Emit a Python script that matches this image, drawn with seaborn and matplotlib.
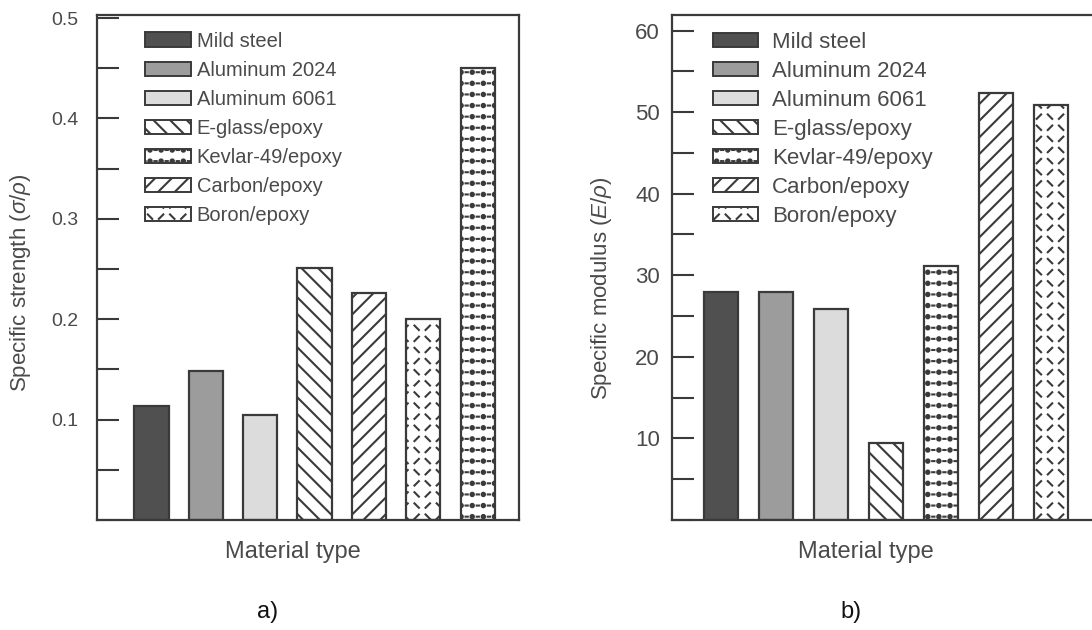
import numpy as np
import pandas as pd
import matplotlib
matplotlib.use("Agg")
import matplotlib.pyplot as plt
import matplotlib.hatch as mhatch
from matplotlib.path import Path
from matplotlib.patches import Patch
from matplotlib.ticker import MultipleLocator, FixedLocator
import seaborn as sns

# ---------------------------------------------------------------- data
legend_materials = ["Mild steel", "Aluminum 2024", "Aluminum 6061", "E-glass/epoxy",
                    "Kevlar-49/epoxy", "Carbon/epoxy", "Boron/epoxy"]

strength_order = ["Mild steel", "Aluminum 2024", "Aluminum 6061", "E-glass/epoxy",
                  "Carbon/epoxy", "Boron/epoxy", "Kevlar-49/epoxy"]
strength_values = [0.114, 0.148, 0.105, 0.251, 0.226, 0.200, 0.450]
strength_ticks = [0.1, 0.2, 0.3, 0.4, 0.5]

modulus_order = ["Mild steel", "Aluminum 2024", "Aluminum 6061", "E-glass/epoxy",
                 "Kevlar-49/epoxy", "Carbon/epoxy", "Boron/epoxy"]
modulus_values = [28.0, 28.0, 25.9, 9.4, 31.1, 52.3, 50.9]
modulus_ticks = [10, 20, 30, 40, 50, 60]

# ---------------------------------------------------------------- styles
FILLS = {"Mild steel": "#505050", "Aluminum 2024": "#9c9c9c", "Aluminum 6061": "#dcdcdc",
         "E-glass/epoxy": "white", "Kevlar-49/epoxy": "white",
         "Carbon/epoxy": "white", "Boron/epoxy": "white"}
HATCHES = {"Mild steel": "", "Aluminum 2024": "", "Aluminum 6061": "",
           "E-glass/epoxy": "\\\\", "Kevlar-49/epoxy": "O",
           "Carbon/epoxy": "//", "Boron/epoxy": "*"}
EDGE = "#3a3a3a"
TEXT = "#4a4a4a"


class DashWeave(mhatch.HatchPatternBase):
    """Short dashes alternating between / and \\ on a square grid (drawn for '*')."""

    def __init__(self, hatch, density):
        self.num_cells = int(round(hatch.count("*") * density * 1.5))
        self.num_vertices = 2 * self.num_cells ** 2

    def set_vertices_and_codes(self, vertices, codes):
        n = self.num_cells
        step = 1.0 / n
        half = 0.2 * step
        k = 0
        for i in range(n):
            for j in range(n):
                cx = (i + 0.5) * step
                cy = (j + 0.5) * step
                s = 1 if (i + j) % 2 == 0 else -1
                vertices[k] = (cx - half, cy - s * half)
                vertices[k + 1] = (cx + half, cy + s * half)
                codes[k] = Path.MOVETO
                codes[k + 1] = Path.LINETO
                k += 2


class DotRows(mhatch.HatchPatternBase):
    """Rows of filled dots joined by short dashes (drawn for 'O')."""

    def __init__(self, hatch, density):
        self.num_cells = int(round(hatch.count("O") * density * 1.5))
        circle = Path.unit_circle()
        self.circle_vertices = circle.vertices
        self.circle_codes = circle.codes
        per_cell = len(self.circle_vertices) + 2
        self.num_vertices = per_cell * self.num_cells ** 2

    def set_vertices_and_codes(self, vertices, codes):
        n = self.num_cells
        step = 1.0 / n
        radius = 0.15 * step
        nc = len(self.circle_vertices)
        k = 0
        for i in range(n):
            for j in range(n):
                cx = (i + 0.5) * step
                cy = (j + 0.5) * step
                vertices[k:k + nc] = self.circle_vertices * radius + (cx, cy)
                codes[k:k + nc] = self.circle_codes
                k += nc
                vertices[k] = (cx + 0.4 * step, cy)
                vertices[k + 1] = (cx + 0.6 * step, cy)
                codes[k] = Path.MOVETO
                codes[k + 1] = Path.LINETO
                k += 2


_swap = {mhatch.Stars: DashWeave, mhatch.LargeCircles: DotRows}
mhatch._hatch_types = [_swap.get(t, t) for t in mhatch._hatch_types]

sns.set_style("white")
plt.rcParams["font.family"] = ["Liberation Sans", "DejaVu Sans"]
plt.rcParams["mathtext.fontset"] = "custom"
plt.rcParams["mathtext.rm"] = "Liberation Sans"
plt.rcParams["mathtext.it"] = "Liberation Sans:italic"
plt.rcParams["hatch.linewidth"] = 1.5
plt.rcParams["hatch.color"] = EDGE

fig = plt.figure(figsize=(10.92, 6.3), dpi=100)
W, H = 1092.0, 630.0


def px_axes(left, top, right, bottom):
    return fig.add_axes([left / W, 1 - bottom / H, (right - left) / W, (bottom - top) / H])


def draw_panel(ax, order, values, ymax, ticks, minor_step, ylabel, xlim,
               tick_fs, tick_pad, legend_fs, legend_kw, ylabel_x, ylabel_y, xlabel_x):
    df = pd.DataFrame({"material": order, "value": values})
    sns.barplot(data=df, x="material", y="value", hue="material", order=order,
                hue_order=order, palette=FILLS, saturation=1, width=0.63,
                edgecolor=EDGE, linewidth=1.6, errorbar=None, legend=False, ax=ax)
    for p in ax.patches:
        idx = int(round(p.get_x() + p.get_width() / 2))
        p.set_hatch(HATCHES[order[idx]])

    ax.set_xlim(*xlim)
    ax.set_ylim(0, ymax)
    ax.set_xticks([])
    ax.yaxis.set_major_locator(FixedLocator(ticks))
    ax.yaxis.set_minor_locator(MultipleLocator(minor_step))
    ax.tick_params(axis="y", which="both", direction="in", length=16, width=1.5,
                   color=EDGE, left=True, right=False)
    ax.tick_params(axis="y", which="major", labelsize=tick_fs, labelcolor=TEXT, pad=tick_pad)
    for side, sp in ax.spines.items():
        sp.set_color(EDGE)
        sp.set_linewidth(1.6)

    ax.set_ylabel(ylabel, fontsize=16, color=TEXT)
    ax.yaxis.set_label_coords(ylabel_x, ylabel_y)
    ax.set_xlabel("Material type", fontsize=17, color=TEXT)
    ax.xaxis.set_label_coords(xlabel_x, -0.042)

    handles = [Patch(facecolor=FILLS[m], edgecolor=EDGE, linewidth=1.4, hatch=HATCHES[m])
               for m in legend_materials]
    leg = ax.legend(handles, legend_materials, loc="upper left", frameon=False,
                    borderpad=0, borderaxespad=0, fontsize=legend_fs, **legend_kw)
    for t in leg.get_texts():
        t.set_color(TEXT)


# (a) specific strength
ax1 = px_axes(97, 15, 519, 520)
draw_panel(ax1, strength_order, strength_values, 0.503, strength_ticks, 0.05,
           r"Specific strength ($\sigma/\rho$)", (-1.0, 6.76),
           tick_fs=14, tick_pad=13.5, legend_fs=14.5,
           legend_kw=dict(bbox_to_anchor=(0.114, 0.967), handlelength=2.3,
                          handleheight=0.72, handletextpad=0.26, labelspacing=0.5),
           ylabel_x=-0.152, ylabel_y=0.469, xlabel_x=0.464)

# (b) specific modulus
ax2 = px_axes(672, 15, 1092, 520)
draw_panel(ax2, modulus_order, modulus_values, 61.9, modulus_ticks, 5,
           r"Specific modulus ($E/\rho$)", (-0.89, 6.745),
           tick_fs=16, tick_pad=8.6, legend_fs=16,
           legend_kw=dict(bbox_to_anchor=(0.0976, 0.967), handlelength=2.03,
                          handleheight=0.63, handletextpad=0.63, labelspacing=0.36),
           ylabel_x=-0.138, ylabel_y=0.459, xlabel_x=0.462)
ax2.spines["right"].set_visible(False)

fig.text(268 / W, 1 - 612 / H, "a)", fontsize=17, color="#111111", ha="center", va="center")
fig.text(851 / W, 1 - 612 / H, "b)", fontsize=17, color="#111111", ha="center", va="center")

fig.savefig("out.png", dpi=100)
